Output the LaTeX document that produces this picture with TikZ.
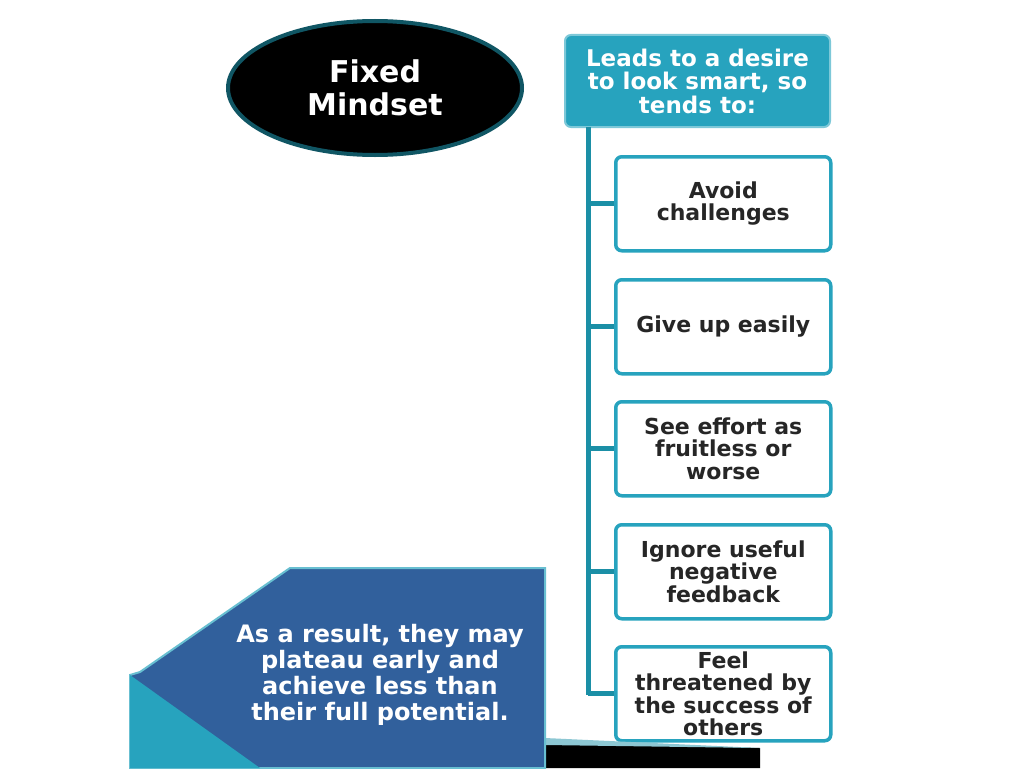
\documentclass[tikz,border=0pt]{standalone}
\usepackage{fontspec}
\setmainfont{DejaVu Sans}
\usetikzlibrary{shapes.geometric}
\definecolor{teal1}{HTML}{27A3BE}
\definecolor{teal2}{HTML}{1B8FA6}
\definecolor{bluebox}{HTML}{31609C}
\tikzset{
  item/.style={draw=teal1,line width=3.5pt,fill=white,rounded corners=6pt,minimum width=215pt,minimum height=94pt,align=center,font=\fontsize{22}{22.5}\selectfont\bfseries,text=black!85,anchor=north west},
  conn/.style={draw=teal2,line width=5pt}
}
\begin{document}
\begin{tikzpicture}[x=1pt,y=-1pt]
\useasboundingbox (0,0) rectangle (1024,768);
\fill[white] (0,0) rectangle (1024,768);
% ellipse
\node[ellipse,draw=teal2!60!black,line width=4pt,fill=black,minimum width=294pt,minimum height=134pt,text=white,align=center,font=\fontsize{30}{33}\selectfont\bfseries] (fm) at (375,88) {Fixed\\Mindset};
% top box
\node[draw=teal1!60,line width=2pt,fill=teal1,rounded corners=6pt,minimum width=265pt,minimum height=92pt,align=center,text=white,font=\fontsize{23}{23.5}\selectfont\bfseries,anchor=north west] (top) at (564,34) {Leads to a desire\\to look smart, so\\tends to:};
\coordinate (vt) at (588,127);
\coordinate (vb) at (588,695);
\draw[conn] (vt) -- (vb);
\node[item] (b1) at (614,155) {Avoid\\challenges};
\node[item] (b2) at (614,278) {Give up easily};
\node[item] (b3) at (614,400) {See effort as\\fruitless or\\worse};
\node[item] (b4) at (614,523) {Ignore useful\\negative\\feedback};
\node[item] (b5) at (614,645) {Feel\\threatened by\\the success of\\others};
\foreach \b in {b1,b2,b3,b4,b5}{\draw[conn] (\b.west) -- (\b.west -| vt);}
% bottom left
\fill[black] (545,742) -- (760,748) -- (760,768) -- (545,768) -- cycle;
\fill[teal2!50!white] (545,738) -- (760,748) -- (545,745) -- cycle;
\fill[bluebox,draw=teal1!70,line width=2pt] (290,568) -- (545,568) -- (545,768) -- (130,768) -- (130,675) -- (140,672) -- cycle;
\fill[teal1] (130,675) -- (260,768) -- (130,768) -- cycle;
\node[text=white,align=center,font=\fontsize{24}{26}\selectfont\bfseries] (res) at (380,675) {As a result, they may\\plateau early and\\achieve less than\\their full potential.};
\end{tikzpicture}
\end{document}
